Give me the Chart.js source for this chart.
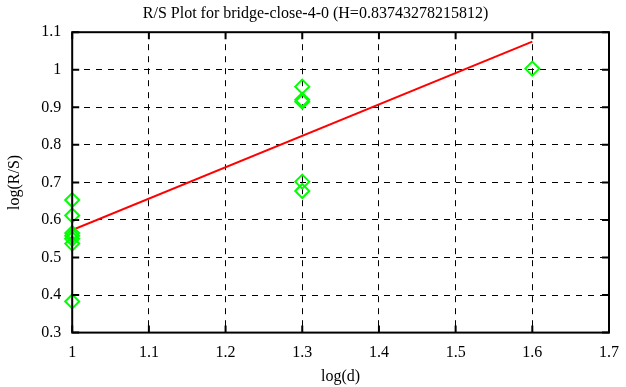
<!DOCTYPE html>
<html>
<head>
<meta charset="utf-8">
<script src="https://cdn.jsdelivr.net/npm/chart.js@4"></script>
<style>
  html, body { margin: 0; padding: 0; background: #fff; }
  #wrap { width: 626px; height: 387px; }
</style>
</head>
<body>
<div id="wrap"><canvas id="chart" width="626" height="387"></canvas></div>
<script>
// log(d) / log(R/S) samples
const pointX = [1, 1, 1, 1, 1, 1, 1, 1.3, 1.3, 1.3, 1.3, 1.3, 1.6];
const pointY = [0.653, 0.612, 0.565, 0.558, 0.55, 0.537, 0.383, 0.955, 0.92, 0.915, 0.702, 0.677, 1.003];
// fitted line end points
const fitX = [1, 1.6];
const fitY = [0.573, 1.075];
const xTicks = [1, 1.1, 1.2, 1.3, 1.4, 1.5, 1.6, 1.7];
const yTicks = [0.3, 0.4, 0.5, 0.6, 0.7, 0.8, 0.9, 1, 1.1];

const serif = "'Liberation Serif', 'DejaVu Serif', serif";

// frame plus inward tick marks, like gnuplot draws
const framePlugin = {
    id: 'frame',
    afterDraw(chart) {
        const { ctx, chartArea: a, scales } = chart;
        ctx.save();
        ctx.strokeStyle = '#000';
        ctx.lineWidth = 2;
        ctx.strokeRect(a.left, a.top, a.right - a.left, a.bottom - a.top);
        ctx.beginPath();
        xTicks.forEach(v => {
            const px = scales.x.getPixelForValue(v);
            ctx.moveTo(px, a.top); ctx.lineTo(px, a.top + 7);
            ctx.moveTo(px, a.bottom); ctx.lineTo(px, a.bottom - 7);
        });
        yTicks.forEach(v => {
            const py = scales.y.getPixelForValue(v);
            ctx.moveTo(a.left, py); ctx.lineTo(a.left + 7, py);
            ctx.moveTo(a.right, py); ctx.lineTo(a.right - 7, py);
        });
        ctx.stroke();
        ctx.restore();
    }
};

new Chart(document.getElementById('chart').getContext('2d'), {
    type: 'scatter',
    data: {
        datasets: [
            {
                label: 'fit',
                type: 'line',
                data: fitX.map((x, i) => ({ x: x, y: fitY[i] })),
                borderColor: '#ff0000',
                borderWidth: 2,
                pointRadius: 0,
                fill: false,
                order: 2
            },
            {
                label: 'R/S',
                data: pointX.map((x, i) => ({ x: x, y: pointY[i] })),
                pointStyle: 'rectRot',
                pointRadius: 7,
                pointBorderWidth: 2,
                pointBorderColor: '#00ff00',
                pointBackgroundColor: 'rgba(0,0,0,0)',
                clip: false,
                order: 1
            }
        ]
    },
    options: {
        responsive: false,
        animation: false,
        layout: { padding: { top: 4, right: 0, left: 5, bottom: 1 } },
        plugins: {
            legend: { display: false },
            tooltip: { enabled: false },
            title: {
                display: true,
                text: 'R/S Plot for bridge-close-4-0 (H=0.83743278215812)',
                color: '#000',
                font: { family: serif, size: 16, weight: 'normal' },
                padding: { top: 0, bottom: 9 }
            }
        },
        scales: {
            x: {
                type: 'linear',
                min: 1, max: 1.7,
                afterBuildTicks: (s) => { s.ticks = xTicks.map(v => ({ value: v })); },
                afterFit: (s) => { s.paddingRight = 17; },
                ticks: { color: '#000', font: { family: serif, size: 16 }, padding: 11,
                         callback: (v) => String(Math.round(v * 10) / 10) },
                grid: { color: '#000', lineWidth: 1, drawTicks: false },
                border: { display: false, dash: [6, 6] },
                title: { display: true, text: 'log(d)', color: '#000',
                         font: { family: serif, size: 16 }, padding: { top: -7, bottom: 0 } }
            },
            y: {
                type: 'linear',
                min: 0.3, max: 1.1,
                afterBuildTicks: (s) => { s.ticks = yTicks.map(v => ({ value: v })); },
                ticks: { color: '#000', font: { family: serif, size: 16 }, padding: 11,
                         callback: (v) => String(Math.round(v * 10) / 10) },
                grid: { color: '#000', lineWidth: 1, drawTicks: false },
                border: { display: false, dash: [6, 6] },
                title: { display: true, text: 'log(R/S)', color: '#000',
                         font: { family: serif, size: 16 }, padding: { top: 0, bottom: 6 } }
            }
        }
    },
    plugins: [framePlugin]
});
</script>
</body>
</html>
